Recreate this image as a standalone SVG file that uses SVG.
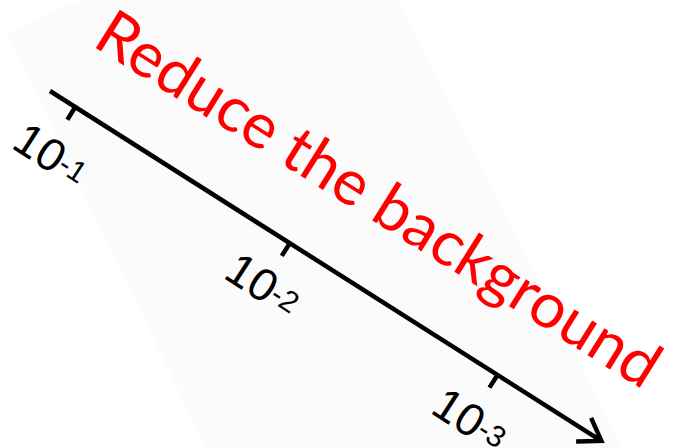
<svg xmlns="http://www.w3.org/2000/svg" width="681" height="448" viewBox="0 0 681 448">
<style>
.ax{stroke:#000;stroke-width:4.5;fill:none;stroke-linecap:butt}
.lbl{font-family:"Liberation Sans",Arial,sans-serif;font-size:46px;fill:#000}
.sup{font-size:30px}
.title{font-family:Lato,"Liberation Sans",sans-serif;font-size:63px;fill:#ff0000}
</style>
<rect width="681" height="448" fill="#ffffff"/>
<polygon id="bg" points="7,33 80,0 397,0 621,448 206,448" fill="#fbfbfb"/>
<g id="connectors">
<g transform="translate(50,91) rotate(32.4)">
<path class="ax" d="M0,0 L652,0"/>
<path class="ax" d="M632,-14 L653,0 L632,14" stroke-linejoin="miter"/>
<path class="ax" d="M30,0 V15 M284,0 V15 M530,0 V15"/>
</g>
</g>
<g id="label1"><text class="lbl" transform="translate(10,147) rotate(33)">10<tspan class="sup" dy="-6">-1</tspan></text></g>
<g id="label2"><text class="lbl" transform="translate(222,277) rotate(33)">10<tspan class="sup" dy="-6">-2</tspan></text></g>
<g id="label3"><text class="lbl" transform="translate(429,412) rotate(33)">10<tspan class="sup" dy="-6">-3</tspan></text></g>
<g id="title"><text class="title" transform="translate(91,45) rotate(32)">Reduce the background</text></g>
</svg>
